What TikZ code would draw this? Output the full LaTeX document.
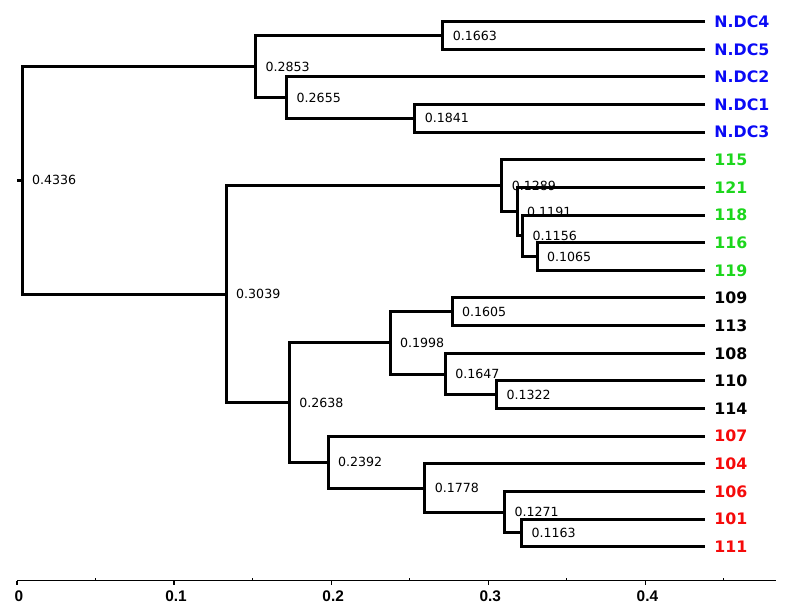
\documentclass[tikz,border=0pt]{standalone}
\usepackage{fontspec}
\usepackage{tikz}
\usetikzlibrary{positioning}
\newfontfamily\dejavu{DejaVu Sans}
\newfontfamily\libsans{Liberation Sans}
\definecolor{dcblue}{RGB}{10,10,245}
\definecolor{grpgreen}{RGB}{28,214,28}
\definecolor{grpred}{RGB}{245,10,10}

\begin{document}
\begin{tikzpicture}[x=1pt,y=-1pt,
      link/.style={line width=3pt,line join=miter},
      axisline/.style={line width=1.3pt},
      leaf/.style={inner sep=0pt,font=\dejavu\bfseries\fontsize{15.8}{17}\selectfont},
      dist/.style={inner sep=0pt,font=\dejavu\fontsize{12.6}{13}\selectfont},
      scalelabel/.style={inner sep=0pt,anchor=north,font=\libsans\bfseries\fontsize{15.4}{16}\selectfont}]

    \useasboundingbox (0,0) rectangle (790,612);

    \foreach \lab/\nm/\col [count=\i from 0] in {N.DC4/ndc4/dcblue,N.DC5/ndc5/dcblue,
        N.DC2/ndc2/dcblue,N.DC1/ndc1/dcblue,N.DC3/ndc3/dcblue,
        115/s115/grpgreen,121/s121/grpgreen,118/s118/grpgreen,116/s116/grpgreen,119/s119/grpgreen,
        109/s109/black,113/s113/black,108/s108/black,110/s110/black,114/s114/black,
        107/s107/grpred,104/s104/grpred,106/s106/grpred,101/s101/grpred,111/s111/grpred} {
      \coordinate (\nm) at (704.7,{21.7+27.63*\i});
      \node[leaf,text=\col,right=9.5pt of \nm] (\nm-t) {\lab};
    }

    \foreach \x/\y/\h in {22.0/180.4/4336,255.5/66.6/2853,442.9/35.5/1663,286.7/97.7/2655,
        414.9/118.4/1841,226.2/294.2/3039,501.8/185.8/1289,517.2/211.7/1191,522.7/235.9/1156,
        537.0/256.6/1065,289.4/402.5/2638,390.1/342.9/1998,452.0/311.8/1605,445.4/374.0/1647,
        496.6/394.7/1322,328.1/462.1/2392,424.8/488.0/1778,504.6/512.2/1271,521.6/532.9/1163} {
      \coordinate (n\h) at (\x,\y);
      \node[dist,right=9.8pt of n\h] (n\h-t) {0.\h};
    }

    \coordinate (stub) at (17,180.4);
    \draw[link] (stub) -- (n4336);
    \foreach \c/\p in {n2853/n4336,n3039/n4336,n1663/n2853,n2655/n2853,
        ndc4/n1663,ndc5/n1663,ndc2/n2655,n1841/n2655,ndc1/n1841,ndc3/n1841,
        n1289/n3039,n2638/n3039,s115/n1289,n1191/n1289,s121/n1191,n1156/n1191,
        s118/n1156,n1065/n1156,s116/n1065,s119/n1065,
        n1998/n2638,n2392/n2638,n1605/n1998,n1647/n1998,s109/n1605,s113/n1605,
        s108/n1647,n1322/n1647,s110/n1322,s114/n1322,
        s107/n2392,n1778/n2392,s104/n1778,n1271/n1778,s106/n1271,n1163/n1271,
        s101/n1163,s111/n1163}
      \draw[link] (\c) -| (\p);

    \coordinate (axstart) at (17,580.7);
    \coordinate (axend) at (775.7,580.7);
    \draw[axisline] (axstart) -- (axend);
    \foreach \v [count=\k from 0] in {0,0.1,0.2,0.3,0.4} {
      \draw[axisline] ({17+157.1*\k},580.7) -- ++(0,4.5);
      \node[scalelabel] (tick\k) at ({19+157.1*\k},590.3) {\v};
    }
    \foreach \k in {0,...,4}
      \draw[line width=1pt] ({95.5+157.1*\k},580.7) -- ++(0,-2.5);
\end{tikzpicture}
\end{document}
